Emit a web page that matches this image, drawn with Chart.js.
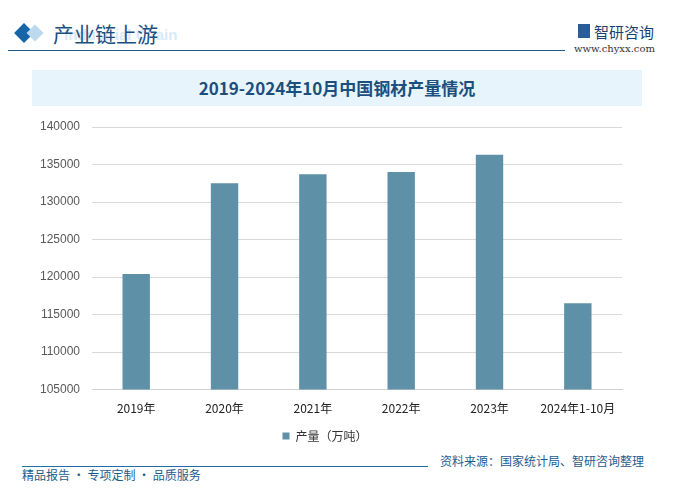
<!DOCTYPE html>
<html><head><meta charset="utf-8">
<script src="https://cdn.jsdelivr.net/npm/chart.js@4/dist/chart.umd.min.js"></script>
<style>
html,body{margin:0;padding:0;background:#fff;}
#wrap{position:relative;width:677px;height:488px;overflow:hidden;font-family:"Noto Sans CJK SC","Noto Sans",sans-serif;}
#c{position:absolute;left:0;top:0;}
.abs{position:absolute;white-space:nowrap;}
</style></head><body>
<div id="wrap">
  <div class="abs" style="left:32px;top:70px;width:610px;height:36px;background:#e8f4fb;"></div>
  <div class="abs" style="left:32px;top:70px;width:610px;height:36px;line-height:36px;text-align:center;color:#1b4f7e;font-size:17px;font-weight:bold;font-family:'Noto Sans CJK SC',serif;">2019-2024年10月中国钢材产量情况</div>
  <div class="abs" style="left:17px;top:26px;width:14px;height:14px;background:#1565a8;transform:rotate(45deg);"></div>
  <div class="abs" style="left:29px;top:27px;width:12px;height:12px;background:#bcd9ee;transform:rotate(45deg);"></div>
  <div class="abs" style="left:64px;top:26px;color:#d6eaf8;font-size:15px;font-weight:bold;font-family:'Liberation Sans',sans-serif;">Industrial Chain</div>
  <div class="abs" style="left:53px;top:18px;color:#1b4f7e;font-size:21px;font-family:'Noto Sans CJK SC',serif;">产业链上游</div>
  <div class="abs" style="left:8px;top:50px;width:557px;height:1px;background:#1f5c8c;"></div>
  <div class="abs" style="left:578px;top:24px;width:12px;height:14px;background:#2a5d9a;"></div>
  <div class="abs" style="left:594px;top:21px;color:#1b3f72;font-size:15px;">智研咨询</div>
  <div class="abs" style="left:574px;top:43px;color:#333;font-size:10px;font-family:'DejaVu Serif',serif;">www.chyxx.com</div>
  <div class="abs" style="left:22px;top:466px;width:406px;height:1px;background:#1f6ea8;"></div>
  <div class="abs" style="left:22px;top:466px;color:#1f5c8c;font-size:12px;">精品报告 · 专项定制 · 品质服务</div>
  <div class="abs" style="left:440px;top:452px;color:#1f5c8c;font-size:12px;">资料来源：国家统计局、智研咨询整理</div>
  <canvas id="c" width="677" height="488"></canvas>
</div>
<script>
const categories = ["2019年","2020年","2021年","2022年","2023年","2024年1-10月"];
const production = [120400, 132500, 133700, 134000, 136300, 116500];
const seriesName = "产量（万吨）";

new Chart(document.getElementById('c'), {
  type: 'bar',
  data: {
    labels: categories,
    datasets: [{
      label: seriesName,
      data: production,
      backgroundColor: '#5e90a8',
      categoryPercentage: 1.0,
      barPercentage: 0.31
    }]
  },
  options: {
    responsive: false,
    animation: false,
    devicePixelRatio: 1,
    layout: { padding: { left: 28, right: 55, top: 127, bottom: 36 } },
    plugins: {
      tooltip: { enabled: false },
      legend: {
        position: 'bottom',
        labels: {
          boxWidth: 7, boxHeight: 7, color: '#333',
          font: { size: 12, family: "'Noto Sans CJK SC'" },
          padding: 10
        }
      }
    },
    scales: {
      x: {
        grid: { display: false },
        border: { color: '#d0d0d0' },
        ticks: { color: '#222', font: { size: 12, family: "'Noto Sans CJK SC'" }, maxRotation: 0, padding: 4 }
      },
      y: {
        min: 105000, max: 140000,
        grid: { color: '#d9d9d9', drawTicks: false },
        border: { display: false },
        ticks: { stepSize: 5000, color: '#595959', font: { size: 12, family: "'Liberation Sans'" }, padding: 12,
          callback: v => String(v) }
      }
    }
  }
});
</script>
</body></html>
